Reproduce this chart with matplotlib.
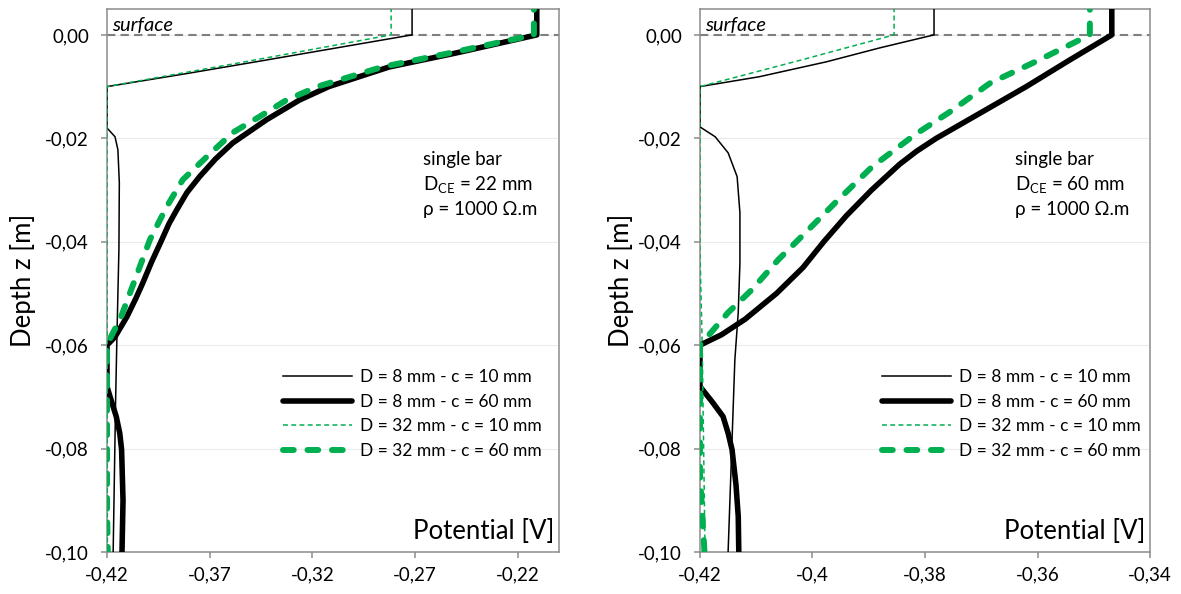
import matplotlib
matplotlib.use("Agg")
import matplotlib.pyplot as plt

plt.rcParams['font.family'] = ['Lato', 'DejaVu Sans']

# ---- data: depth z [m] / potential [V] ----
# left panel: single bar, DCE = 22 mm
l_d8c10_z = [0.01, 0.0, -0.0025, -0.005, -0.0075, -0.01, -0.018, -0.0197, -0.0222, -0.0286, -0.0415, -0.0589, -0.0705, -0.1]
l_d8c10_v = [-0.2715, -0.2715, -0.3080, -0.3445, -0.3815, -0.42, -0.42, -0.4161, -0.4147, -0.4140, -0.4142, -0.4152, -0.4158, -0.4170]

l_d8c60_z = [0.01, 0.0, -0.0035, -0.0062, -0.010, -0.0126, -0.0164, -0.0209, -0.024, -0.0274, -0.0305, -0.0338, -0.0365,
             -0.0396, -0.044, -0.0479, -0.051, -0.0545, -0.0584, -0.060, -0.068, -0.070, -0.0738, -0.077, -0.0802,
             -0.090, -0.1]
l_d8c60_v = [-0.2108, -0.2108, -0.2501, -0.2826, -0.3120, -0.3263, -0.3423, -0.3588, -0.3672, -0.3749, -0.3811, -0.3860,
             -0.3898, -0.3933, -0.3984, -0.4025, -0.4060, -0.4103, -0.4161, -0.4200, -0.4200, -0.4185, -0.4155,
             -0.4138, -0.4129, -0.4122, -0.4127]

l_d32c10_z = [0.01, 0.0, -0.005, -0.01, -0.042, -0.1]
l_d32c10_v = [-0.2817, -0.2817, -0.3500, -0.42, -0.42, -0.4198]

l_d32c60_z = [0.01, 0.0, -0.0035, -0.0062, -0.010, -0.0126, -0.0158, -0.0189, -0.0236, -0.0280, -0.0332, -0.0396,
              -0.0448, -0.0499, -0.0551, -0.0576, -0.0600, -0.092, -0.1]
l_d32c60_v = [-0.2122, -0.2122, -0.2530, -0.2860, -0.3175, -0.3326, -0.3457, -0.3588, -0.3715, -0.3831, -0.3909, -0.3991,
              -0.4040, -0.4088, -0.4137, -0.4171, -0.4200, -0.4200, -0.4196]

# right panel: single bar, DCE = 60 mm
r_d8c10_z = [0.01, 0.0, -0.0025, -0.0052, -0.0081, -0.01, -0.0178, -0.0197, -0.0228, -0.0274, -0.0344, -0.0441,
             -0.0537, -0.0628, -0.1]
r_d8c10_v = [-0.3784, -0.3784, -0.3880, -0.3975, -0.4095, -0.42, -0.42, -0.4173, -0.4150, -0.4134, -0.4129, -0.4129,
             -0.4132, -0.4138, -0.4150]

r_d8c60_z = [0.01, 0.0, -0.005, -0.010, -0.015, -0.020, -0.0225, -0.025, -0.030, -0.035, -0.040, -0.045, -0.050,
             -0.055, -0.058, -0.060, -0.068, -0.071, -0.0738, -0.077, -0.0802, -0.087, -0.0931, -0.1]
r_d8c60_v = [-0.3468, -0.3468, -0.3545, -0.3620, -0.3700, -0.3780, -0.3815, -0.3845, -0.3895, -0.3940, -0.3980,
             -0.4017, -0.4064, -0.4120, -0.4162, -0.4200, -0.4200, -0.4178, -0.4159, -0.4150, -0.4143, -0.4136,
             -0.4132, -0.4131]

r_d32c10_z = [0.01, 0.0, -0.005, -0.01, -0.042, -0.06, -0.1]
r_d32c10_v = [-0.3855, -0.3855, -0.4025, -0.42, -0.42, -0.4196, -0.4191]

r_d32c60_z = [0.01, 0.0, -0.005, -0.0093, -0.0149, -0.0193, -0.0255, -0.0325, -0.0383, -0.0435, -0.0493, -0.0537,
              -0.0589, -0.060, -0.085, -0.1]
r_d32c60_v = [-0.3507, -0.3507, -0.3600, -0.3684, -0.3756, -0.3818, -0.3894, -0.3960, -0.4013, -0.4061, -0.4108,
              -0.4150, -0.4191, -0.4200, -0.4200, -0.4192]

series_labels = ["D = 8 mm - c = 10 mm", "D = 8 mm - c = 60 mm",
                 "D = 32 mm - c = 10 mm", "D = 32 mm - c = 60 mm"]

y_ticks = [0.0, -0.02, -0.04, -0.06, -0.08, -0.10]
y_ticklabels = ["0,00", "-0,02", "-0,04", "-0,06", "-0,08", "-0,10"]

l_xticks = [-0.42, -0.37, -0.32, -0.27, -0.22]
l_xticklabels = ["-0,42", "-0,37", "-0,32", "-0,27", "-0,22"]
r_xticks = [-0.42, -0.40, -0.38, -0.36, -0.34]
r_xticklabels = ["-0,42", "-0,4", "-0,38", "-0,36", "-0,34"]

GREEN = '#00b050'
GRAY = '#8c8c8c'

fig = plt.figure(figsize=(11.81, 5.94), dpi=100)
ax1 = fig.add_axes([0.0906, 0.0707, 0.3827, 0.9141])
ax2 = fig.add_axes([0.5927, 0.0707, 0.3811, 0.9141])

panels = [
    (ax1, (l_d8c10_v, l_d8c10_z), (l_d8c60_v, l_d8c60_z), (l_d32c10_v, l_d32c10_z), (l_d32c60_v, l_d32c60_z),
     (-0.42, -0.20), l_xticks, l_xticklabels, "22", 0.389, -0.157),
    (ax2, (r_d8c10_v, r_d8c10_z), (r_d8c60_v, r_d8c60_z), (r_d32c10_v, r_d32c10_z), (r_d32c60_v, r_d32c60_z),
     (-0.42, -0.34), r_xticks, r_xticklabels, "60", 0.404, -0.147),
]

for ax, s1, s2, s3, s4, xlim, xt, xtl, dce, legx, ylabx in panels:
    ax.plot(s1[0], s1[1], color='black', lw=1.1, label=series_labels[0], solid_joinstyle='round', zorder=3)
    ax.plot(s2[0], s2[1], color='black', lw=4.0, label=series_labels[1], solid_joinstyle='round',
            solid_capstyle='round', zorder=3)
    ax.plot(s3[0], s3[1], color=GREEN, lw=1.1, ls=(0, (3.2, 2.2)), label=series_labels[2], zorder=3)
    ax.plot(s4[0], s4[1], color=GREEN, lw=4.3, ls=(0, (1.8, 2.3)), dash_capstyle='round',
            dash_joinstyle='round', label=series_labels[3], zorder=3)

    ax.axhline(0, color='#808080', lw=1.5, ls=(0, (4, 2.5)), zorder=1)

    ax.set_xlim(*xlim)
    ax.set_ylim(-0.10, 0.005)
    ax.set_xticks(xt)
    ax.set_xticklabels(xtl)
    ax.set_yticks(y_ticks)
    ax.set_yticklabels(y_ticklabels)
    ax.grid(axis='y', color='#ececec', lw=0.8)
    ax.set_axisbelow(True)
    for sp in ax.spines.values():
        sp.set_color(GRAY)
        sp.set_linewidth(1.1)
    ax.tick_params(direction='out', length=4, width=1.1, color=GRAY, labelsize=13.5)
    ax.tick_params(axis='x', pad=6)
    ax.tick_params(axis='y', pad=9)

    ax.set_ylabel("Depth z [m]", fontsize=18.5)
    ax.yaxis.set_label_coords(ylabx, 0.5)

    ax.text(0.011, 0.9705, "surface", style='italic', fontsize=14.5, transform=ax.transAxes, va='center')
    ax.text(0.989, 0.037, "Potential [V]", fontsize=18.5, transform=ax.transAxes, va='center', ha='right')

    ax.text(0.700, 0.722, "single bar", fontsize=13.5, transform=ax.transAxes, va='center')
    ax.text(0.700, 0.676, r"D$_{\mathregular{CE}}$ = " + dce + " mm", fontsize=13.5, transform=ax.transAxes,
            va='center')
    ax.text(0.700, 0.630, "ρ = 1000 Ω.m", fontsize=13.5, transform=ax.transAxes, va='center')

    ax.legend(loc='upper left', bbox_to_anchor=(legx, 0.337), frameon=False, fontsize=12.5,
              handlelength=4.0, handletextpad=0.45, labelspacing=0.5, borderaxespad=0, borderpad=0)

fig.savefig("out.png", dpi=100)
